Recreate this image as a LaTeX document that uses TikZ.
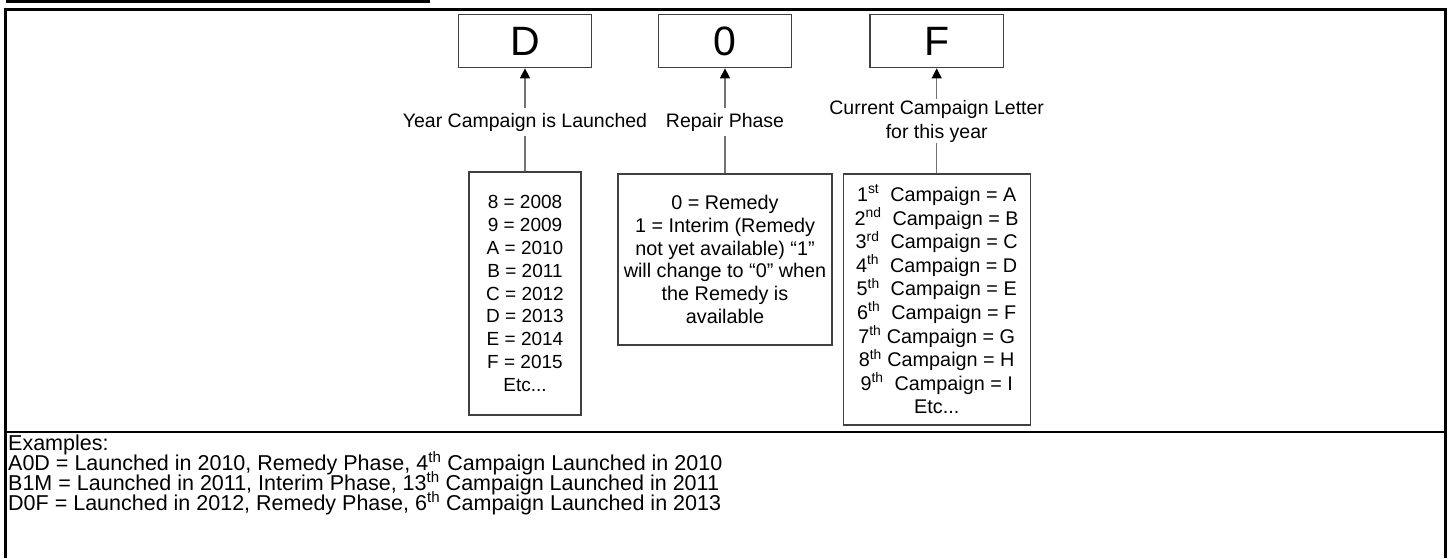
\documentclass[tikz,border=0pt]{standalone}
\usepackage{fontspec}
\setmainfont{Liberation Sans}
\usetikzlibrary{arrows.meta}
\begin{document}
\begin{tikzpicture}[x=1pt,y=-1pt,
  frame/.style={line width=2.2pt,black},
  codebox/.style={draw=black!75,line width=1.2pt,minimum width=133.5pt,minimum height=53.5pt,inner sep=0pt,font=\fontsize{41}{41}\selectfont},
  infobox/.style={draw=black!75,line width=1.2pt,inner sep=0pt,align=center},
  lab/.style={font=\fontsize{19.5}{24}\selectfont,inner xsep=2pt,inner ysep=5pt,text height=14pt,text depth=4pt},
  lab2/.style={font=\fontsize{19.5}{24}\selectfont,align=center,inner xsep=2pt,inner ysep=1pt},
  conn/.style={draw=black!55,line width=1.2pt},
  arr/.style={conn,-{Triangle[width=10pt,length=10pt,black]}},
  ex/.style={anchor=base west,inner sep=0pt,font=\fontsize{21.5}{20}\selectfont}]
\useasboundingbox (0,0) rectangle (1449,558);
\fill[white] (0,0) rectangle (1449,558);
% frame
\draw[frame] (6,1.5) -- (430,1.5);
\draw[frame] (5.5,558) -- (5.5,9.5) -- (1445.5,9.5) -- (1445.5,558);
\draw[frame] (5.5,432) -- (1445.5,432);
% code letters
\node[codebox] (cD) at (525,41) {D};
\node[codebox] (c0) at (725,41) {0};
\node[codebox] (cF) at (936.7,41) {F};
% labels
\node[lab,anchor=base] (lY) at (525,127) {Year Campaign is Launched};
\node[lab,anchor=base] (lR) at (725,127) {Repair Phase};
\node[lab2] (lC) at (936.7,121) {Current Campaign Letter\\for this year};
% info boxes
\node[infobox,minimum width=112pt,minimum height=243pt,font=\fontsize{19}{22.9}\selectfont] (yb) at (525,293.5)
  {8 = 2008\\9 = 2009\\A = 2010\\B = 2011\\C = 2012\\D = 2013\\E = 2014\\F = 2015\\Etc...};
\node[infobox,minimum width=214pt,minimum height=171pt,font=\fontsize{19.8}{22.7}\selectfont] (rb) at (725,259.5)
  {0 = Remedy\\1 = Interim (Remedy\\not yet available) “1”\\will change to “0” when\\the Remedy is\\available};
\node[infobox,minimum width=187pt,minimum height=251pt,font=\fontsize{19.8}{23.6}\selectfont] (cb) at (936.7,299.5)
  {1\textsuperscript{st}\ \ Campaign = A\\2\textsuperscript{nd}\ \ Campaign = B\\3\textsuperscript{rd}\ \ Campaign = C\\4\textsuperscript{th}\ \ Campaign = D\\5\textsuperscript{th}\ \ Campaign = E\\6\textsuperscript{th}\ \ Campaign = F\\7\textsuperscript{th} Campaign = G\\8\textsuperscript{th} Campaign = H\\9\textsuperscript{th}\ \ Campaign = I\\Etc...};
% connectors
\draw[arr] (lY.north) -- (cD.south);
\draw[arr] (lR.north) -- (c0.south);
\draw[arr] (lC.north) -- (cF.south);
\draw[conn] (yb.north) -- (lY.south);
\draw[conn] (rb.north) -- (lR.south);
\draw[conn] (cb.north) -- (lC.south);
% examples
\node[ex] (e0) at (8,450.5) {Examples:};
\node[ex] (e1) at (8,470.5) {A0D = Launched in 2010, Remedy Phase, 4\textsuperscript{th} Campaign Launched in 2010};
\node[ex] (e2) at (8,490.5) {B1M = Launched in 2011, Interim Phase, 13\textsuperscript{th} Campaign Launched in 2011};
\node[ex] (e3) at (8,510.5) {D0F = Launched in 2012, Remedy Phase, 6\textsuperscript{th} Campaign Launched in 2013};
\end{tikzpicture}
\end{document}
